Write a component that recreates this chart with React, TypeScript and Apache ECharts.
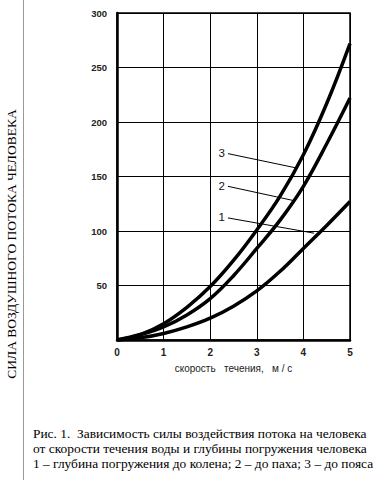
import React, { useEffect, useRef } from "react";
import * as echarts from "echarts";

const speeds = [0, 0.5, 1, 1.5, 2, 2.5, 3, 3.5, 4, 4.5, 5];
const curve1 = [0, 2, 6, 12, 20, 31, 45, 63, 84, 105, 127];
const curve2 = [0, 5, 12, 23, 38, 59, 84, 110, 141, 180, 222];
const curve3 = [0, 5, 15, 30, 49, 73, 101, 132, 170, 217, 272];
const seriesNames = ["1", "2", "3"];
// leader lines: [label position, curve point]
const leaders = [
  [[2.38, 112], [4.23, 98]],
  [[2.38, 141], [3.78, 128]],
  [[2.38, 171], [3.83, 158]],
];
const xTicks = [0, 1, 2, 3, 4, 5];
const yTicks = [0, 50, 100, 150, 200, 250, 300];
const xName = "скорость   течения,   м / с";
const yName = "СИЛА ВОЗДУШНОГО ПОТОКА ЧЕЛОВЕКА";
const caption = [
  "Рис. 1.  Зависимость силы воздействия потока на человека",
  "от скорости течения воды и глубины погружения человека",
  "1 – глубина погружения до колена; 2 – до паха; 3 – до пояса",
];

export default function App() {
  const ref = useRef<HTMLDivElement>(null);
  useEffect(() => {
    if (!ref.current) return;
    const chart = echarts.init(ref.current, null, { renderer: "svg" });
    const all = [curve1, curve2, curve3];
    chart.setOption({
      animation: false,
      backgroundColor: "#fff",
      color: ["#000", "#000", "#000"],
      grid: { left: 117, right: 28, top: 13, bottom: 140, show: true, borderColor: "#000", borderWidth: 1.5 },
      xAxis: {
        type: "value",
        min: 0,
        max: 5,
        interval: 1,
        name: xName,
        nameLocation: "middle",
        nameGap: 23,
        nameTextStyle: { fontFamily: "Liberation Sans", fontSize: 10, color: "#222" },
        axisLine: { show: true, lineStyle: { color: "#000", width: 2.5 } },
        axisTick: { show: false },
        axisLabel: {
          margin: 7,
          fontFamily: "Liberation Sans",
          fontWeight: "bold",
          fontSize: 10,
          color: "#222",
          formatter: (v: number) => (xTicks.includes(v) ? String(v) : ""),
        },
        splitLine: { show: true, lineStyle: { color: "#000", width: 1 } },
      },
      yAxis: {
        type: "value",
        min: 0,
        max: 300,
        interval: 50,
        axisLine: { show: true, lineStyle: { color: "#000", width: 2.5 } },
        axisTick: { show: false },
        axisLabel: {
          margin: 10,
          fontFamily: "Liberation Sans",
          fontWeight: "bold",
          fontSize: 9.5,
          color: "#222",
          showMinLabel: false,
          formatter: (v: number) => (yTicks.includes(v) && v !== 0 ? String(v) : ""),
        },
        splitLine: { show: true, lineStyle: { color: "#000", width: 1 } },
      },
      series: all.map((vals, i) => ({
        name: seriesNames[i],
        type: "line",
        smooth: 0.4,
        symbol: "none",
        data: speeds.map((s, j) => [s, vals[j]]),
        itemStyle: { color: "#000" },
        lineStyle: { color: "#000", width: 3.5 },
        z: 3,
        markLine: {
          silent: true,
          symbol: "none",
          lineStyle: { color: "#000", width: 1, type: "solid" },
          emphasis: { disabled: true },
          label: {
            show: true,
            position: "start",
            formatter: seriesNames[i],
            fontFamily: "Liberation Sans",
            fontSize: 11.5,
            color: "#111",
            distance: 3,
          },
          data: [[{ coord: leaders[i][0] }, { coord: leaders[i][1] }]],
        },
      })),
      graphic: [
        {
          type: "line",
          shape: { x1: 23.5, y1: 0, x2: 23.5, y2: 480 },
          style: { stroke: "#999", lineWidth: 1 },
        },
        {
          type: "text",
          x: 11,
          y: 244,
          rotation: Math.PI / 2,
          style: {
            text: yName,
            fontFamily: "Liberation Serif",
            fontSize: 13.5,
            fill: "#000",
            align: "center",
            verticalAlign: "middle",
          },
        },
        ...caption.map((t, i) => ({
          type: "text",
          x: 33,
          y: 433 + i * 15,
          style: {
            text: t,
            fontFamily: "Liberation Serif",
            fontSize: 13.4,
            fill: "#000",
            align: "left",
            verticalAlign: "middle",
          },
        })),
      ],
    });
    return () => chart.dispose();
  }, []);
  return <div ref={ref} style={{ width: 378, height: 480, position: "absolute", left: 0, top: 0 }} />;
}
